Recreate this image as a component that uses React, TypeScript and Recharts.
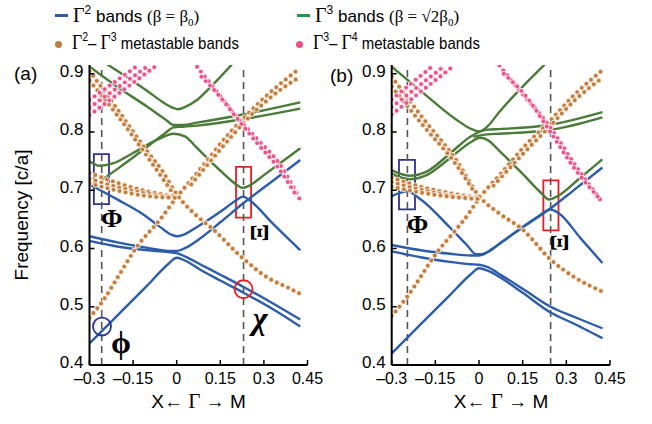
import { LineChart, Line, XAxis, YAxis, ReferenceLine, ReferenceArea, ReferenceDot } from "recharts";

type Pt = [number, number];

const xTicks = [-0.3, -0.15, 0, 0.15, 0.3, 0.45];
const yTicks = [0.4, 0.5, 0.6, 0.7, 0.8, 0.9];

// ---- panel (a) ----
const blueA1: Pt[] = [[-0.3, 0.437], [-0.2, 0.487], [-0.1, 0.537], [-0.03, 0.573], [0, 0.584], [0.03, 0.579], [0.08, 0.564], [0.15, 0.545], [0.23, 0.524], [0.33, 0.496], [0.425, 0.466]];
const blueA2: Pt[] = [[-0.3, 0.613], [-0.2, 0.603], [-0.1, 0.597], [-0.03, 0.594], [0, 0.592], [0.03, 0.586], [0.08, 0.573], [0.15, 0.555], [0.23, 0.534], [0.33, 0.506], [0.425, 0.478]];
const blueA3: Pt[] = [[-0.3, 0.621], [-0.2, 0.61], [-0.1, 0.601], [-0.03, 0.596], [0, 0.596], [0.03, 0.601], [0.08, 0.617], [0.15, 0.645], [0.23, 0.678], [0.33, 0.716], [0.425, 0.752]];
const blueA4: Pt[] = [[-0.3, 0.71], [-0.2, 0.683], [-0.12, 0.66], [-0.06, 0.638], [-0.02, 0.624], [0, 0.621], [0.02, 0.623], [0.07, 0.637], [0.15, 0.663], [0.2, 0.681], [0.228, 0.689], [0.255, 0.681], [0.33, 0.643], [0.425, 0.597]];

const greenA1: Pt[] = [[-0.245, 0.918], [-0.18, 0.897], [-0.1, 0.87], [-0.05, 0.852], [-0.015, 0.842], [0.005, 0.839], [0.03, 0.843], [0.067, 0.854], [0.12, 0.879], [0.19, 0.916]];
const greenA2: Pt[] = [[-0.3, 0.912], [-0.2, 0.876], [-0.1, 0.843], [-0.04, 0.822], [-0.01, 0.812], [0.02, 0.812], [0.07, 0.816], [0.228, 0.83], [0.425, 0.851]];
const greenA3: Pt[] = [[-0.26, 0.717], [-0.2, 0.738], [-0.1, 0.775], [-0.04, 0.798], [-0.01, 0.808], [0.02, 0.809], [0.07, 0.811], [0.228, 0.822], [0.425, 0.84]];
const greenA4: Pt[] = [[-0.3, 0.75], [-0.265, 0.742], [-0.22, 0.746], [-0.15, 0.764], [-0.07, 0.786], [-0.01, 0.797], [0.03, 0.792], [0.067, 0.774], [0.12, 0.748], [0.18, 0.72], [0.21, 0.708], [0.228, 0.704], [0.25, 0.708], [0.3, 0.726], [0.36, 0.748], [0.425, 0.772]];

const pinkA1: Pt[] = [[-0.3, 0.855], [-0.14, 0.912]];
const pinkA2: Pt[] = [[-0.3, 0.842], [-0.1, 0.913]];
const pinkA3: Pt[] = [[-0.3, 0.829], [-0.07, 0.914]];
const pinkA4: Pt[] = [[0.07, 0.912], [0.14, 0.868], [0.205, 0.827], [0.28, 0.786], [0.354, 0.745], [0.425, 0.683]];
const pinkA5: Pt[] = [[0.085, 0.895], [0.15, 0.86], [0.21, 0.822], [0.28, 0.779], [0.35, 0.738], [0.415, 0.688]];

const brownA1: Pt[] = [[-0.3, 0.481], [-0.25, 0.513], [-0.2, 0.553], [-0.137, 0.603], [-0.06, 0.648], [0, 0.688], [0.067, 0.728], [0.18, 0.797], [0.3, 0.858], [0.425, 0.91]];
const brownA2: Pt[] = [[0.05, 0.71], [0.15, 0.77], [0.25, 0.826], [0.35, 0.87], [0.425, 0.895]];
const brownA3: Pt[] = [[-0.3, 0.905], [-0.2, 0.836], [-0.1, 0.766], [-0.048, 0.732], [0, 0.693], [0.067, 0.657], [0.125, 0.633], [0.228, 0.583], [0.33, 0.545], [0.37, 0.536], [0.425, 0.522]];
const brownA4: Pt[] = [[-0.3, 0.888], [-0.2, 0.826], [-0.1, 0.757], [-0.02, 0.7]];
const brownA5: Pt[] = [[-0.3, 0.73], [-0.2, 0.712], [-0.1, 0.698], [0, 0.689]];
const brownA6: Pt[] = [[-0.3, 0.72], [-0.2, 0.705], [-0.1, 0.694], [0, 0.688]];
const brownA7: Pt[] = [[-0.3, 0.712], [-0.2, 0.699], [-0.1, 0.69], [0, 0.687]];

// ---- panel (b) ----
const blueB1: Pt[] = [[-0.3, 0.42], [-0.2, 0.47], [-0.1, 0.52], [-0.03, 0.555], [0, 0.566], [0.03, 0.562], [0.08, 0.548], [0.15, 0.524], [0.246, 0.49], [0.33, 0.47], [0.424, 0.446]];
const blueB2: Pt[] = [[-0.3, 0.595], [-0.2, 0.585], [-0.1, 0.577], [-0.03, 0.573], [0, 0.572], [0.03, 0.568], [0.08, 0.553], [0.15, 0.531], [0.246, 0.5], [0.33, 0.482], [0.424, 0.463]];
const blueB3: Pt[] = [[-0.3, 0.606], [-0.2, 0.597], [-0.1, 0.591], [-0.03, 0.588], [0, 0.588], [0.03, 0.594], [0.08, 0.612], [0.15, 0.636], [0.246, 0.669], [0.33, 0.702], [0.424, 0.739]];
const blueB4: Pt[] = [[-0.3, 0.69], [-0.246, 0.698], [-0.2, 0.684], [-0.1, 0.636], [-0.04, 0.605], [-0.01, 0.59], [0.01, 0.59], [0.05, 0.601], [0.12, 0.626], [0.2, 0.654], [0.246, 0.667], [0.275, 0.66], [0.35, 0.617], [0.424, 0.575]];

const greenB1: Pt[] = [[-0.3, 0.912], [-0.194, 0.868], [-0.08, 0.822], [-0.03, 0.806], [0, 0.801], [0.03, 0.81], [0.069, 0.834], [0.15, 0.878], [0.23, 0.918]];
const greenB2: Pt[] = [[-0.3, 0.728], [-0.24, 0.719], [-0.18, 0.726], [-0.1, 0.755], [-0.03, 0.782], [0.003, 0.79], [0.03, 0.786], [0.069, 0.768], [0.15, 0.728], [0.21, 0.697], [0.241, 0.684], [0.27, 0.69], [0.34, 0.718], [0.424, 0.753]];
const greenB3: Pt[] = [[-0.3, 0.734], [-0.24, 0.725], [-0.18, 0.732], [-0.1, 0.763], [-0.03, 0.792], [0, 0.8], [0.03, 0.804], [0.069, 0.805], [0.24, 0.812], [0.424, 0.834]];
const greenB4: Pt[] = [[-0.02, 0.792], [0.03, 0.796], [0.069, 0.797], [0.24, 0.803], [0.424, 0.825]];

const pinkB1: Pt[] = [[-0.3, 0.856], [-0.16, 0.913]];
const pinkB2: Pt[] = [[-0.3, 0.843], [-0.12, 0.913]];
const pinkB3: Pt[] = [[-0.3, 0.83], [-0.086, 0.914]];
const pinkB4: Pt[] = [[0.07, 0.914], [0.13, 0.877], [0.24, 0.811], [0.332, 0.742], [0.424, 0.679]];
const pinkB5: Pt[] = [[0.085, 0.9], [0.16, 0.862], [0.24, 0.804], [0.33, 0.736], [0.41, 0.688]];

const brownB1: Pt[] = [[-0.3, 0.484], [-0.25, 0.515], [-0.149, 0.59], [-0.034, 0.661], [0, 0.686], [0.069, 0.725], [0.15, 0.772], [0.24, 0.817], [0.33, 0.865], [0.424, 0.906]];
const brownB2: Pt[] = [[0.05, 0.708], [0.15, 0.762], [0.24, 0.808], [0.33, 0.855], [0.424, 0.893]];
const brownB3: Pt[] = [[-0.3, 0.895], [-0.19, 0.822], [-0.08, 0.753], [0, 0.69], [0.07, 0.66], [0.149, 0.633], [0.246, 0.581], [0.33, 0.55], [0.424, 0.526]];
const brownB4: Pt[] = [[-0.3, 0.878], [-0.19, 0.81], [-0.08, 0.745], [-0.02, 0.7]];
const brownB5: Pt[] = [[-0.3, 0.722], [-0.2, 0.706], [-0.1, 0.695], [0, 0.687]];
const brownB6: Pt[] = [[-0.3, 0.714], [-0.2, 0.701], [-0.1, 0.691], [0, 0.686]];
const brownB7: Pt[] = [[-0.3, 0.706], [-0.2, 0.696], [-0.1, 0.689], [0, 0.685]];

const BLUE = "#2d5daa";
const GREEN = "#4a7b39";
const BROWN = "#c27c3e";
const PINK = "#f0508a";
const NAVY = "#2e3192";
const RED = "#ed1c24";

const SANS = '"Liberation Sans", Arial, sans-serif';
const SERIF = '"Liberation Serif", "Times New Roman", serif';

const rows = (pts: Pt[]) => pts.map(([x, y]) => ({ x, y }));

const solid = (pts: Pt[], color: string, key: string) => (
  <Line key={key} data={rows(pts)} dataKey="y" type="monotone" stroke={color} strokeWidth={2.4}
    dot={false} activeDot={false} isAnimationActive={false} />
);

const dotted = (pts: Pt[], color: string, halo: string, key: string) => [
  <Line key={key + "h"} data={rows(pts)} dataKey="y" type="monotone" stroke={halo} strokeWidth={5.6}
    strokeDasharray="0 6.2" strokeLinecap="round" dot={false} activeDot={false} isAnimationActive={false} />,
  <Line key={key} data={rows(pts)} dataKey="y" type="monotone" stroke={color} strokeWidth={3.9}
    strokeDasharray="0 6.2" strokeLinecap="round" dot={false} activeDot={false} isAnimationActive={false} />,
];

const fmtX = (v: number) => (v === 0 ? "0" : (v < 0 ? "\u2013" : "") + Math.abs(v));

type Note = { x: number; y: number; text: string; size: number; italic?: boolean; angle?: number };

type PanelProps = {
  left: number;
  width: number;
  margin: { top: number; right: number; bottom: number; left: number };
  blue: Pt[][];
  green: Pt[][];
  brown: Pt[][];
  pink: Pt[][];
  dashX: number[];
  rects: { x1: number; x2: number; y1: number; y2: number; color: string }[];
  circles: { x: number; y: number; color: string }[];
  notes: Note[];
};

const Panel = (p: PanelProps) => (
  <div style={{ position: "absolute", left: p.left, top: 0 }}>
    <LineChart width={p.width} height={424} margin={p.margin}>
      <XAxis type="number" dataKey="x" domain={[-0.3, 0.45]} ticks={xTicks} interval={0}
        tickFormatter={fmtX} height={30} tickSize={-5} tickMargin={13}
        tick={{ fill: "#000", fontSize: 16, fontFamily: SANS }}
        axisLine={{ stroke: "#000", strokeWidth: 2 }} tickLine={{ stroke: "#000", strokeWidth: 1.5 }} allowDataOverflow />
      <XAxis xAxisId="top" orientation="top" type="number" dataKey="x" domain={[-0.3, 0.45]} ticks={xTicks}
        interval={0} height={0} tickSize={-5} tick={false}
        axisLine={{ stroke: "#000", strokeWidth: 2 }} tickLine={{ stroke: "#000", strokeWidth: 1.5 }} allowDataOverflow />
      <YAxis type="number" domain={[0.4, 0.915]} ticks={yTicks} interval={0} width={50}
        tickSize={-5} tickMargin={11} tick={{ fill: "#000", fontSize: 17, fontFamily: SANS, dy: -3 }}
        axisLine={{ stroke: "#000", strokeWidth: 2 }} tickLine={{ stroke: "#000", strokeWidth: 1.5 }} allowDataOverflow />
      <YAxis yAxisId="right" orientation="right" type="number" domain={[0.4, 0.915]} ticks={yTicks}
        interval={0} width={0} tickSize={-5} tick={false}
        axisLine={{ stroke: "#000", strokeWidth: 2 }} tickLine={{ stroke: "#000", strokeWidth: 1.5 }} allowDataOverflow />

      {p.dashX.map((x, i) => (
        <ReferenceLine key={"d" + i} x={x} stroke="#555" strokeWidth={1.6} strokeDasharray="7 5" />
      ))}

      {p.green.map((pts, i) => solid(pts, GREEN, "g" + i))}
      {p.blue.map((pts, i) => solid(pts, BLUE, "b" + i))}
      {p.brown.map((pts, i) => dotted(pts, BROWN, "#f8e6d6", "o" + i))}
      {p.pink.map((pts, i) => dotted(pts, PINK, "#fde3ec", "p" + i))}

      {p.rects.map((r, i) => (
        <ReferenceArea key={"r" + i} x1={r.x1} x2={r.x2} y1={r.y1} y2={r.y2}
          fill="none" fillOpacity={0} stroke={r.color} strokeWidth={1.8} />
      ))}
      {p.circles.map((c, i) => (
        <ReferenceDot key={"c" + i} x={c.x} y={c.y} r={9} fill="none" stroke={c.color} strokeWidth={1.8} />
      ))}
      {p.notes.map((n, i) => (
        <ReferenceDot key={"n" + i} x={n.x} y={n.y} r={0} fill="none" stroke="none"
          label={{
            value: n.text, position: "center", fill: "#000", fontSize: n.size, fontWeight: "bold",
            fontFamily: SERIF, fontStyle: n.italic ? "italic" : "normal", angle: n.angle ?? 0,
          }} />
      ))}
    </LineChart>
  </div>
);

const sup = (s: string) => (
  <span style={{ fontSize: 12, position: "relative", top: -8 }}>{s}</span>
);
const G = () => <span style={{ fontFamily: SERIF, fontSize: 20 }}>Γ</span>;

const legendText = {
  position: "absolute" as const,
  fontSize: 17,
  whiteSpace: "nowrap" as const,
};
const narrowText = { ...legendText, transform: "scaleX(0.88)", transformOrigin: "left center" };

const App = () => (
  <div style={{ position: "fixed", left: 0, top: 0, width: 652, height: 424, background: "#fff", fontFamily: SANS, color: "#000" }}>
    {/* legend */}
    <div style={{ position: "absolute", left: 55, top: 14, width: 13, height: 3, background: BLUE }} />
    <div style={{ ...legendText, left: 73, top: 4 }}>
      <G />{sup("2")} bands <span style={{ fontFamily: SERIF }}>(β = β<sub style={{ fontSize: 11 }}>0</sub>)</span>
    </div>
    <div style={{ position: "absolute", left: 297, top: 14, width: 13, height: 3, background: "#1a9a4a" }} />
    <div style={{ ...legendText, left: 315, top: 4 }}>
      <G />{sup("3")} bands <span style={{ fontFamily: SERIF }}>(β = √2β<sub style={{ fontSize: 11 }}>0</sub>)</span>
    </div>
    <div style={{ position: "absolute", left: 55, top: 41, width: 7, height: 7, borderRadius: 4, background: BROWN }} />
    <div style={{ ...narrowText, left: 72, top: 31 }}>
      <G />{sup("2")}– <G />{sup("3")} metastable bands
    </div>
    <div style={{ position: "absolute", left: 296, top: 41, width: 7, height: 7, borderRadius: 4, background: PINK }} />
    <div style={{ ...narrowText, left: 313, top: 31 }}>
      <G />{sup("3")}– <G />{sup("4")} metastable bands
    </div>

    <div style={{ position: "absolute", left: 14, top: 63, fontSize: 19 }}>(a)</div>
    <div style={{ position: "absolute", left: 330, top: 65, fontSize: 19 }}>(b)</div>

    <div style={{ position: "absolute", left: 22, top: 215, transform: "translate(-50%, -50%) rotate(-90deg)", fontSize: 19, whiteSpace: "nowrap" }}>
      Frequency [c/a]
    </div>

    <Panel left={0} width={332} margin={{ top: 65, right: 24.5, bottom: 29, left: 39.5 }}
      blue={[blueA1, blueA2, blueA3, blueA4]}
      green={[greenA1, greenA2, greenA3, greenA4]}
      brown={[brownA1, brownA2, brownA3, brownA4, brownA5, brownA6, brownA7]}
      pink={[pinkA1, pinkA2, pinkA3, pinkA4, pinkA5]}
      dashX={[-0.258, 0.23]}
      rects={[
        { x1: -0.285, x2: -0.233, y1: 0.676, y2: 0.762, color: NAVY },
        { x1: 0.204, x2: 0.256, y1: 0.653, y2: 0.74, color: RED },
      ]}
      circles={[
        { x: -0.257, y: 0.466, color: NAVY },
        { x: 0.23, y: 0.53, color: RED },
      ]}
      notes={[
        { x: -0.223, y: 0.652, text: "Φ", size: 26 },
        { x: -0.192, y: 0.44, text: "ϕ", size: 32 },
        { x: 0.287, y: 0.482, text: "χ", size: 32, italic: true },
        { x: 0.281, y: 0.627, text: "Ξ", size: 26, angle: -90 },
      ]}
    />
    <Panel left={320} width={332} margin={{ top: 65, right: 42, bottom: 29, left: 21.7 }}
      blue={[blueB1, blueB2, blueB3, blueB4]}
      green={[greenB1, greenB2, greenB3, greenB4]}
      brown={[brownB1, brownB2, brownB3, brownB4, brownB5, brownB6, brownB7]}
      pink={[pinkB1, pinkB2, pinkB3, pinkB4, pinkB5]}
      dashX={[-0.246, 0.246]}
      rects={[
        { x1: -0.275, x2: -0.22, y1: 0.667, y2: 0.752, color: NAVY },
        { x1: 0.221, x2: 0.273, y1: 0.631, y2: 0.717, color: RED },
      ]}
      circles={[]}
      notes={[
        { x: -0.211, y: 0.643, text: "Φ", size: 26 },
        { x: 0.275, y: 0.61, text: "Ξ", size: 26, angle: -90 },
      ]}
    />

    <div style={{ position: "absolute", left: 198.5, top: 389, transform: "translateX(-50%)", fontSize: 19, whiteSpace: "nowrap" }}>
      X← <span style={{ fontFamily: SERIF, fontSize: 21 }}>Γ</span> → M
    </div>
    <div style={{ position: "absolute", left: 501, top: 389, transform: "translateX(-50%)", fontSize: 19, whiteSpace: "nowrap" }}>
      X← <span style={{ fontFamily: SERIF, fontSize: 21 }}>Γ</span> → M
    </div>
  </div>
);

export default App;
